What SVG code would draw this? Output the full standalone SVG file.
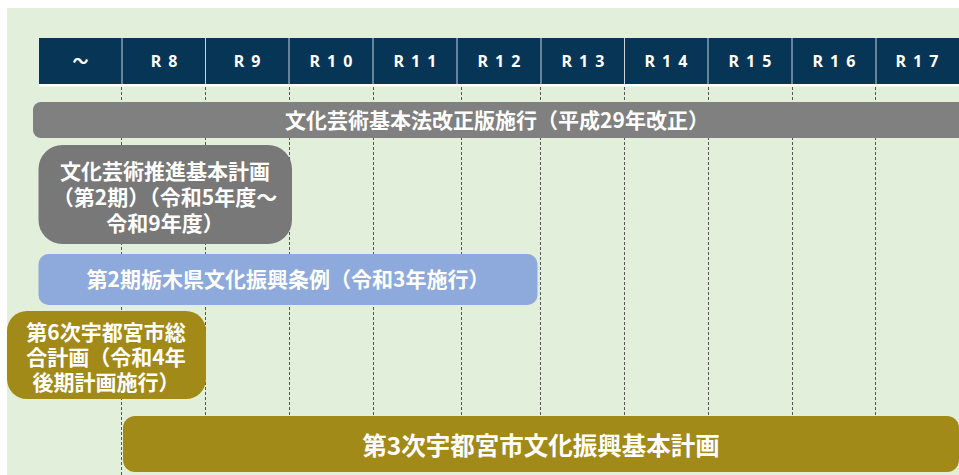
<svg xmlns="http://www.w3.org/2000/svg" width="959" height="475" viewBox="0 0 959 475">
<style>
.hd{font-family:"Noto Sans","Noto Sans CJK JP",sans-serif;font-weight:700;font-size:16px;fill:#fff;text-anchor:middle;letter-spacing:7px}
.t{font-family:"Noto Sans CJK JP",sans-serif;font-weight:700;fill:#fff;text-anchor:middle}
.dash{stroke:#555;stroke-width:1;stroke-dasharray:3 2;fill:none}
.sep{stroke:#c8d3dc;stroke-width:1}
</style>
<rect x="0" y="0" width="959" height="475" fill="#fff"/>
<rect x="7" y="8" width="952" height="467" fill="#E2EFDA"/>
<g id="connectors">
<path class="dash" d="M121.5 87V475M205.5 87V415M289.5 87V415M373.5 87V415M461.5 87V415M540.5 87V415M624.5 87V415M708.5 87V415M792.5 87V415M875.5 87V415"/>
</g>
<g id="header">
<rect x="39" y="38" width="920" height="46" fill="#063556"/>
<rect x="39" y="84" width="920" height="2.5" fill="#fff"/>
<path class="sep" d="M122 38V84M205.5 38V84M289 38V84M373 38V84M457 38V84M541 38V84M624.5 38V84M708 38V84M792 38V84M876 38V84"/>
<text class="hd" x="84" y="67">～</text>
<text class="hd" x="167.5" y="67">R8</text>
<text class="hd" x="250.5" y="67">R9</text>
<text class="hd" x="334.5" y="67">R10</text>
<text class="hd" x="418.5" y="67">R11</text>
<text class="hd" x="502.5" y="67">R12</text>
<text class="hd" x="586.5" y="67">R13</text>
<text class="hd" x="669.5" y="67">R14</text>
<text class="hd" x="753.5" y="67">R15</text>
<text class="hd" x="837.5" y="67">R16</text>
<text class="hd" x="920.5" y="67">R17</text>
</g>
<g id="law">
<rect x="33" y="102" width="940" height="36" rx="8" fill="#808080"/>
<text class="t" x="497" y="128" font-size="21">文化芸術基本法改正版施行（平成29年改正）</text>
</g>
<g id="plan2">
<rect x="38.5" y="145" width="253.5" height="99" rx="24" fill="#787878"/>
<text class="t" font-size="21"><tspan x="165" y="178.5">文化芸術推進基本計画</tspan><tspan x="165" y="204.5">（第2期）（令和5年度～</tspan><tspan x="165" y="230.5">令和9年度）</tspan></text>
</g>
<g id="ordinance">
<rect x="38.5" y="254" width="499" height="51" rx="10" fill="#8EA9DB"/>
<text class="t" x="288" y="286.5" font-size="21">第2期栃木県文化振興条例（令和3年施行）</text>
</g>
<g id="city6">
<rect x="7" y="311" width="199" height="88" rx="20" fill="#A28A19"/>
<text class="t" font-size="21"><tspan x="106" y="339.5">第6次宇都宮市総</tspan><tspan x="106" y="364.5">合計画（令和4年</tspan><tspan x="106" y="389.5">後期計画施行）</tspan></text>
</g>
<g id="plan3">
<rect x="123" y="416" width="836" height="56" rx="12" fill="#A28A19"/>
<text class="t" x="541" y="454.5" font-size="24.5">第3次宇都宮市文化振興基本計画</text>
</g>
</svg>
